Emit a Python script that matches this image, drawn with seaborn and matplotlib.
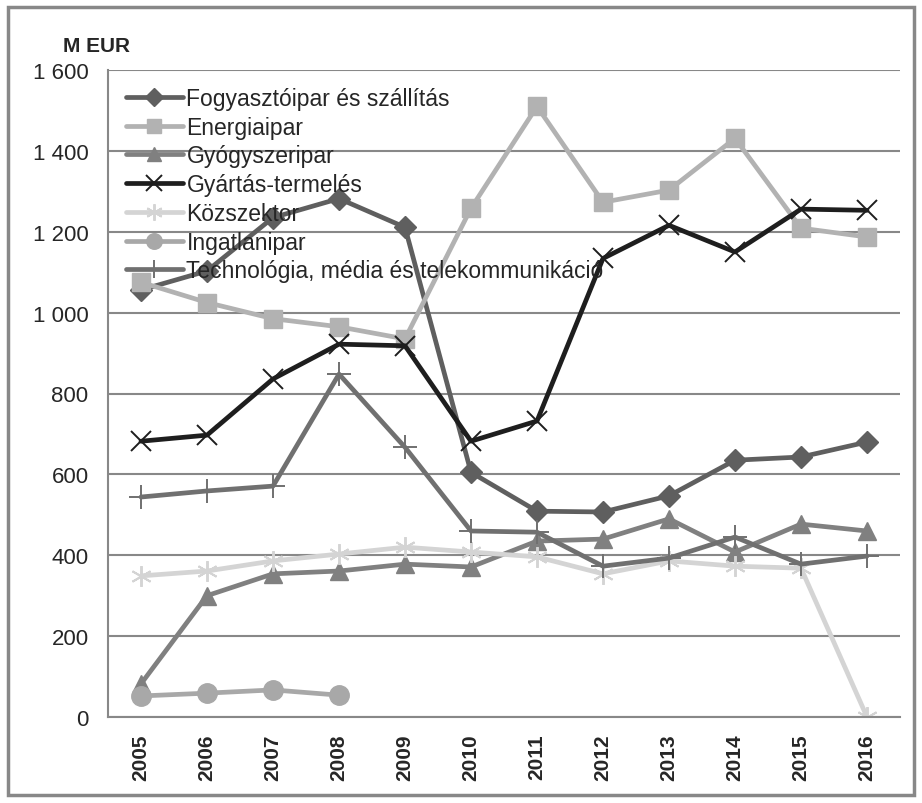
import numpy as np
import pandas as pd
import matplotlib
matplotlib.use("Agg")
import matplotlib.pyplot as plt
import matplotlib.ticker as mticker
from matplotlib.patches import Rectangle
import seaborn as sns

# --- data ---
years = [2005, 2006, 2007, 2008, 2009, 2010, 2011, 2012, 2013, 2014, 2015, 2016]

fogyasztoipar = [1056, 1103, 1235, 1282, 1211, 605, 509, 507, 547, 635, 643, 680]
energiaipar = [1075, 1025, 985, 965, 935, 1258, 1510, 1273, 1303, 1431, 1209, 1187]
gyogyszeripar = [82, 300, 354, 361, 378, 371, 435, 440, 490, 408, 477, 460]
gyartas = [682, 697, 836, 922, 918, 682, 732, 1134, 1216, 1150, 1256, 1253]
kozszektor = [349, 361, 386, 403, 420, 408, 396, 354, 386, 373, 368, 0]
ingatlanipar = [52, 59, 67, 54]  # 2005-2008 only
technologia = [544, 559, 571, 848, 667, 460, 457, 373, 393, 445, 378, 398]

series = [
    ("Fogyasztóipar és szállítás", fogyasztoipar),
    ("Energiaipar", energiaipar),
    ("Gyógyszeripar", gyogyszeripar),
    ("Gyártás-termelés", gyartas),
    ("Közszektor", kozszektor),
    ("Ingatlanipar", ingatlanipar),
    ("Technológia, média és telekommunikáció", technologia),
]

# look of each series (colour, marker, marker size, marker edge width, filled?)
styles = {
    "Fogyasztóipar és szállítás": ("#5f5f5f", "D", 11, 1.0, True),
    "Energiaipar": ("#b2b2b2", "s", 13, 1.0, True),
    "Gyógyszeripar": ("#808080", "^", 13, 1.0, True),
    "Gyártás-termelés": ("#1e1e1e", "x", 14, 1.4, False),
    "Közszektor": ("#d4d4d4", (6, 2, 0), 15, 1.4, False),
    "Ingatlanipar": ("#a8a8a8", "o", 14, 1.0, True),
    "Technológia, média és telekommunikáció": ("#707070", "+", 17, 1.4, False),
}

sns.set_theme(style="white")
plt.rcParams["font.family"] = ["Liberation Sans", "DejaVu Sans"]

fig = plt.figure(figsize=(9.22, 8.04), dpi=100)
ax = fig.add_axes([108 / 922, 1 - 718 / 804, (900 - 108) / 922, (718 - 71) / 804])

for name, vals in series:
    df = pd.DataFrame({"idx": np.arange(len(vals)), "val": vals})
    color, marker, ms, mew, filled = styles[name]
    kw = dict(markerfacecolor=color, markeredgecolor=color) if filled else dict(markeredgecolor=color)
    sns.lineplot(data=df, x="idx", y="val", ax=ax, color=color, linewidth=3.4,
                 marker=marker, markersize=ms, markeredgewidth=mew, label=name, **kw)

# axes
ax.set_xlim(-0.5, len(years) - 0.5)
ax.set_ylim(0, 1600)
ax.set_xticks(range(len(years)))
ax.set_xticklabels([str(y) for y in years], rotation=90, fontsize=15, fontweight="bold")
ax.set_xticks(np.arange(-0.5, len(years)), minor=True)
ax.tick_params(axis="x", which="major", length=0, pad=12)
ax.tick_params(axis="x", which="minor", length=8, width=1.5, color="#888888", direction="out")
ax.set_yticks(range(0, 1601, 200))
ax.yaxis.set_major_formatter(mticker.FuncFormatter(lambda v, p: f"{int(v):,}".replace(",", " ")))
ax.tick_params(axis="y", length=8, width=1.5, color="#888888", labelsize=16, pad=6)
ax.set_xlabel("")
ax.set_ylabel("")

ax.grid(axis="y", color="#888888", linewidth=1.5)
ax.set_axisbelow(True)
for side in ["top", "right"]:
    ax.spines[side].set_visible(False)
for side in ["left", "bottom"]:
    ax.spines[side].set_color("#888888")
    ax.spines[side].set_linewidth(1.5)

fig.text(63 / 922, 1 - 46 / 804, "M EUR", fontsize=15, fontweight="bold", va="center")

leg = ax.legend(loc="upper left", bbox_to_anchor=(0.005, 0.995), frameon=False,
                fontsize=16.5, handlelength=2.5, handletextpad=0.15, labelspacing=0.25,
                borderaxespad=0.2, markerscale=0.8)

# grey frame around the whole chart
fig.patches.append(Rectangle((8 / 922, 8 / 804), 906 / 922, 788 / 804,
                             transform=fig.transFigure, fill=False,
                             edgecolor="#888888", linewidth=2.5))

fig.savefig("out.png", dpi=100)
